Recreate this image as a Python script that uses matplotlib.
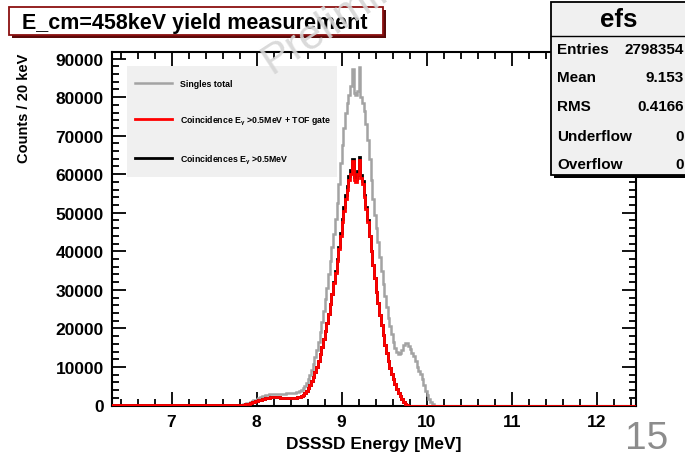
import matplotlib
matplotlib.use("Agg")
import matplotlib.pyplot as plt
import numpy as np
from matplotlib.patches import Rectangle
from matplotlib.lines import Line2D
from matplotlib.ticker import MultipleLocator

plt.rcParams['font.family'] = ['Liberation Sans', 'DejaVu Sans']
plt.rcParams['font.weight'] = 'bold'
plt.rcParams['mathtext.default'] = 'regular'

# histogram binning (20 keV bins)
bin_width = 0.02
x_lo, x_hi = 6.30, 12.46
peak_lo = 7.80          # left edge of the first bin listed below

# Singles total, bins 7.80 ... 10.08 MeV
singles = [
    100, 200, 300, 400, 550, 700, 900, 1100, 1300, 1500,
    1750, 2000, 2200, 2400, 2550, 2700, 2800, 2900, 2950, 3000,
    3050, 3050, 3100, 3100, 3050, 3100, 3100, 3150, 3150, 3200,
    3200, 3300, 3350, 3450, 3600, 3800, 4100, 4500, 5100, 5900,
    6900, 8000, 9300, 10800, 12500, 14500, 16600, 19000, 21600, 24400,
    27500, 30600, 34000, 37500, 41000, 44500, 48500, 52500, 57500, 63000,
    67500, 72000, 76000, 78500, 80500, 83000, 87300, 81000, 80500, 81500,
    87800, 80000, 78500, 76500, 73000, 69000, 64000, 58500, 53500, 49500,
    46000, 42500, 38500, 35000, 31500, 28500, 25500, 22800, 20500, 18500,
    16600, 15000, 14000, 13300, 13500, 14500, 15600, 16300, 16200, 15500,
    14600, 13700, 12800, 11500, 10000, 9000, 8200, 6800, 5200, 3800,
    2800, 1800, 1000, 400, 0,
]

# Coincidence E_gamma > 0.5 MeV + TOF gate
coinc_tof = [
    100, 150, 200, 300, 400, 500, 650, 800, 950, 1100,
    1250, 1400, 1550, 1700, 1800, 1900, 2000, 2050, 2100, 2150,
    2150, 2150, 2100, 2100, 2050, 2000, 2000, 1950, 1950, 1950,
    1900, 1950, 2000, 2050, 2150, 2300, 2500, 2800, 3200, 3800,
    4500, 5300, 6300, 7500, 8700, 10000, 11500, 13300, 15200, 17200,
    19300, 21500, 23800, 26300, 28900, 31700, 34500, 37500, 40500, 44000,
    47500, 50500, 53500, 56000, 58500, 60000, 63300, 58500, 58000, 60000,
    63800, 59000, 57500, 54000, 51000, 47500, 44000, 40000, 36500, 33000,
    29500, 26500, 23500, 20800, 18200, 15800, 13600, 11600, 9800, 8200,
    6800, 5500, 4300, 3300, 2400, 1600, 1000, 500, 200, 0,
    0, 0, 0, 0, 0, 0, 0, 0, 0, 0,
    0, 0, 0, 0, 0,
]

# Coincidences E_gamma > 0.5 MeV
coinc = [
    100, 150, 200, 300, 400, 500, 650, 800, 950, 1100,
    1250, 1400, 1550, 1700, 1800, 1900, 2000, 2050, 2100, 2150,
    2150, 2150, 2100, 2100, 2050, 2000, 2000, 1950, 1950, 1950,
    1900, 1950, 2000, 2050, 2150, 2300, 2500, 2800, 3200, 3800,
    4500, 5300, 6300, 7500, 8700, 10000, 11500, 13300, 15200, 17200,
    19300, 21500, 23800, 26300, 28900, 32000, 35000, 38000, 41200, 44800,
    48400, 51500, 54500, 57000, 59500, 61000, 64000, 59300, 58800, 60800,
    64500, 59800, 58200, 54600, 51500, 48000, 44000, 40000, 36500, 33000,
    29500, 26500, 23500, 20800, 18200, 15800, 13600, 11600, 9800, 8200,
    6800, 5500, 4300, 3300, 2400, 1600, 1000, 500, 200, 0,
    0, 0, 0, 0, 0, 0, 0, 0, 0, 0,
    0, 0, 0, 0, 0,
]

# flat low-energy level below 7.8 MeV
tail_singles = 120
tail_coinc = 80

stats_labels = ['Entries', 'Mean', 'RMS', 'Underflow', 'Overflow']
stats_values = ['2798354', '9.153', '0.4166', '0', '0']

n_bins = int(round((x_hi - x_lo) / bin_width))
edges = x_lo + bin_width * np.arange(n_bins + 1)
i0 = int(round((peak_lo - x_lo) / bin_width))


def full_hist(vals, tail):
    h = np.zeros(n_bins)
    h[:i0] = tail
    h[i0:i0 + len(vals)] = vals
    return h


W, H = 685, 456


def px(x, y):
    return x / W, 1 - y / H


fig = plt.figure(figsize=(W / 100, H / 100), dpi=100)
ax = fig.add_axes([112 / W, 1 - 406.5 / H, (636 - 112) / W, (406.5 - 53) / H])

ax.stairs(full_hist(singles, tail_singles), edges, color='#a3a3a3', lw=1.8, zorder=3)
ax.stairs(full_hist(coinc, tail_coinc), edges, color='black', lw=2.0, zorder=4)
ax.stairs(full_hist(coinc_tof, tail_coinc), edges, color='#ff0000', lw=2.0, zorder=5)

ax.set_xlim(x_lo, x_hi)
ax.set_ylim(0, 91700)
ax.xaxis.set_major_locator(MultipleLocator(1))
ax.xaxis.set_minor_locator(MultipleLocator(0.2))
ax.yaxis.set_major_locator(MultipleLocator(10000))
ax.yaxis.set_minor_locator(MultipleLocator(2000))
ax.tick_params(which='both', direction='in', top=True, right=True, width=1.3)
ax.tick_params(which='major', length=10, labelsize=12.5, pad=6)
ax.tick_params(which='minor', length=5)
for s in ax.spines.values():
    s.set_linewidth(1.5)
    s.set_zorder(2)

ax.set_xlabel('DSSSD Energy [MeV]', fontsize=12.5, fontweight='bold', labelpad=5)
fig.text(24 / W, 1 - 54 / H, 'Counts / 20 keV', rotation=90, ha='center', va='top',
         fontsize=10.5, fontweight='bold')

# legend: grey box, entries placed inside it
ax.add_patch(Rectangle(px(127, 178), 210 / W, 111 / H, transform=fig.transFigure,
                       facecolor='#f0f0f0', edgecolor='none', zorder=2.4))
handles = [
    Line2D([], [], color='#a3a3a3', lw=1.8),
    Line2D([], [], color='#ff0000', lw=2.0),
    Line2D([], [], color='black', lw=2.0),
]
labels = ['Singles total', r'Coincidence E$_{\gamma}$ >0.5MeV + TOF gate',
          r'Coincidences E$_{\gamma}$ >0.5MeV']
leg = ax.legend(handles, labels, loc='upper left',
                bbox_to_anchor=px(127, 72), bbox_transform=fig.transFigure,
                borderaxespad=0, borderpad=0.9, labelspacing=2.95, handlelength=4.2,
                handletextpad=0.9, frameon=False,
                prop={'size': 6.3, 'weight': 'bold'})
leg.set_zorder(2.5)

# title box with shadow
fig.patches.append(Rectangle(px(12, 39), 374 / W, 28 / H, transform=fig.transFigure,
                             facecolor='#5a0a0a', edgecolor='none', zorder=1))
fig.patches.append(Rectangle(px(9, 36), 374 / W, 28 / H, transform=fig.transFigure,
                             facecolor='white', edgecolor='#8b1010', lw=1.3, zorder=2))
fig.text(*px(22, 23), 'E_cm=458keV yield measurement', ha='left', va='center',
         fontsize=15.5, fontweight='bold', zorder=3)

# stats box
fig.patches.append(Rectangle(px(554, 179), 140 / W, 173 / H, transform=fig.transFigure,
                             facecolor='black', edgecolor='none', zorder=4))
fig.patches.append(Rectangle(px(551, 176), 140 / W, 173 / H, transform=fig.transFigure,
                             facecolor='#f0f0f0', edgecolor='black', lw=1.3, zorder=5))
fig.lines.append(Line2D([551 / W, 1], [1 - 37 / H, 1 - 37 / H], transform=fig.transFigure,
                        color='black', lw=1.0, zorder=6))
fig.text(*px(619, 20), 'efs', ha='center', va='center', fontsize=18.5, fontweight='bold', zorder=7)
row_y = [50, 78, 107, 137, 165]
for lab, val, yy in zip(stats_labels, stats_values, row_y):
    fig.text(*px(557, yy), lab, ha='left', va='center', fontsize=11, fontweight='bold', zorder=7)
    fig.text(*px(684, yy), val, ha='right', va='center', fontsize=11, fontweight='bold', zorder=7)

# watermark
fig.text(*px(272, 74), 'Preliminary', rotation=33, rotation_mode='anchor', ha='left',
         va='baseline', fontsize=31, fontweight='normal', color='#d6d6d6', alpha=0.9, zorder=10)

# slide page number
fig.text(*px(668, 449), '15', ha='right', va='baseline', fontsize=28, fontweight='normal',
         color='#8c8c8c')

fig.savefig('out.png', dpi=100)
